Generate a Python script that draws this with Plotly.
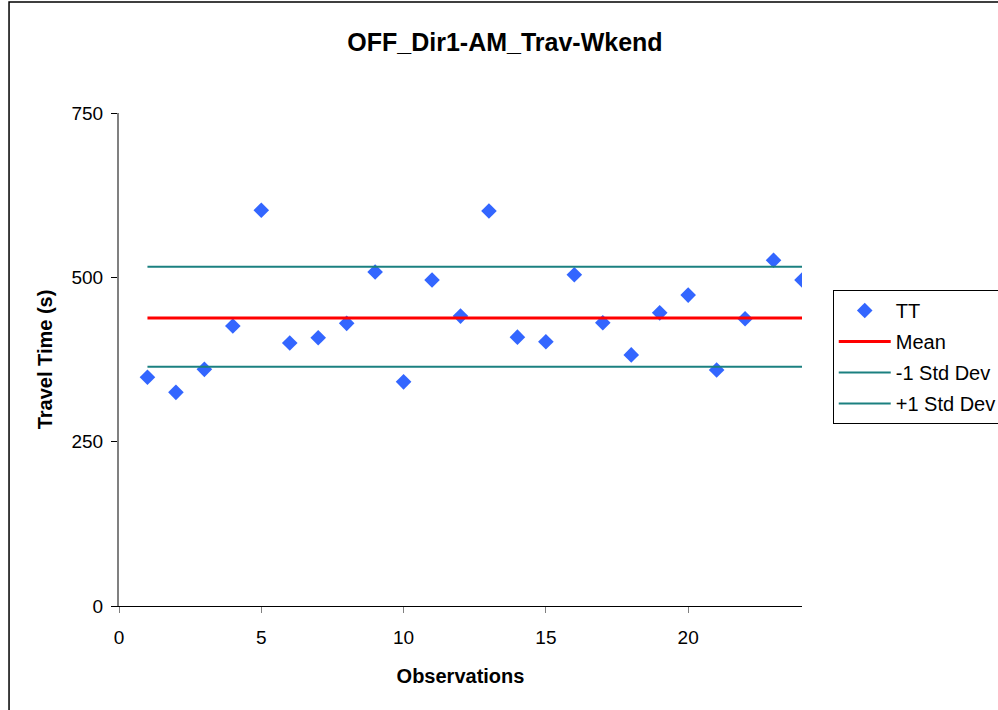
import plotly.graph_objects as go

# observation number and travel time readings (s)
observations = list(range(1, 25))
travel_time = [348, 325, 360, 426, 602, 400, 408, 430, 508, 341, 496, 441,
               601, 409, 402, 504, 431, 382, 446, 473, 359, 437, 526, 496]

# summary lines
mean_tt = 438
minus_std = 364
plus_std = 516

font_family = "Arial, Liberation Sans, sans-serif"
teal = "#1B8080"

fig = go.Figure()

fig.add_scatter(x=observations, y=travel_time, mode="markers", name="TT", legendgroup="a",
                marker=dict(symbol="diamond", size=12, color="#3366FF"))
fig.add_scatter(x=observations, y=[mean_tt] * len(observations), mode="lines", legendgroup="b",
                name="Mean", line=dict(color="#FF0000", width=3))
fig.add_scatter(x=observations, y=[minus_std] * len(observations), mode="lines", legendgroup="c",
                name="-1 Std Dev", line=dict(color=teal, width=2))
fig.add_scatter(x=observations, y=[plus_std] * len(observations), mode="lines", legendgroup="d",
                name="+1 Std Dev", line=dict(color=teal, width=2))

fig.update_layout(
    width=998, height=710,
    # legend runs off the right edge in the original, so don't let it push the plot
    margin=dict(l=119, r=196, t=113, b=104, autoexpand=False),
    paper_bgcolor="white", plot_bgcolor="white",
    font=dict(family=font_family, size=19, color="black"),
    title=dict(text="<b>OFF_Dir1-AM_Trav-Wkend</b>", x=0.506, xanchor="center",
               y=0.94, yanchor="middle", font=dict(size=25)),
    xaxis=dict(
        range=[0, 24], tickvals=[0, 5, 10, 15, 20], showgrid=False, zeroline=False,
        showline=True, linecolor="black", linewidth=1,
        ticks="outside", ticklen=6, tickcolor="#808080", ticklabelstandoff=8,
        title=dict(text="<b>Observations</b>", font=dict(size=20), standoff=22),
    ),
    yaxis=dict(
        range=[0, 750], tickvals=[0, 250, 500, 750], showgrid=False, zeroline=False,
        showline=True, linecolor="#808080", linewidth=2,
        ticks="outside", ticklen=6, tickcolor="black", ticklabelstandoff=4,
        title=dict(text="<b>Travel Time (s)</b>", font=dict(size=20), standoff=13),
    ),
    legend=dict(x=1.045, y=0.641, xanchor="left", yanchor="top",
                bordercolor="black", borderwidth=1, bgcolor="white",
                font=dict(size=20), tracegroupgap=2, itemwidth=52),
    showlegend=True,
)

# outer chart border, running off the right and bottom edges like the original
fig.add_shape(type="rect", xref="paper", yref="paper",
              x0=-0.161, y0=-0.3, x1=1.4, y1=1.225,
              line=dict(color="black", width=1.5), fillcolor="rgba(0,0,0,0)", layer="below")

# drop the page's default body margin so the chart sits at the window's corner
fig.write_html("out.html", config={"displayModeBar": False},
               post_script="document.body.style.margin='0';")
